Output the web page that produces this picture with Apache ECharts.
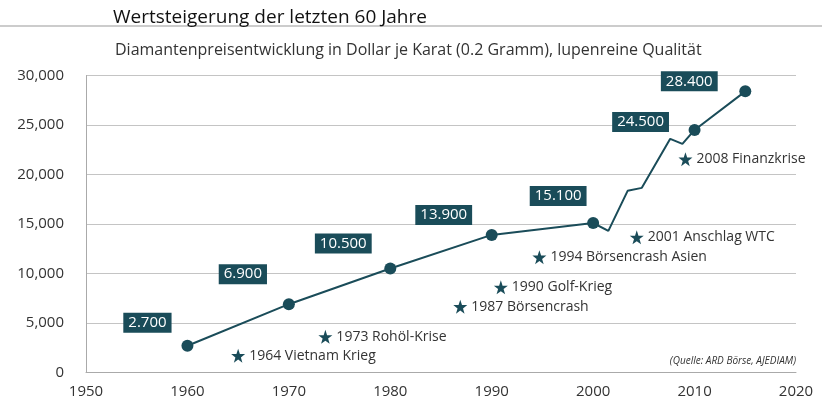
<!DOCTYPE html>
<html><head><meta charset="utf-8">
<script src="https://cdn.jsdelivr.net/npm/echarts@6/dist/echarts.min.js"></script>
<style>html,body{margin:0;padding:0;background:#fff}#c{width:822px;height:407px}</style>
</head><body><div id="c"></div>
<script>
// Main labelled data points
const mainYears = [1960, 1970, 1980, 1990, 2000, 2010, 2015];
const mainValues = [2700, 6900, 10500, 13900, 15100, 24500, 28400];
// Full price path (incl. intermediate vertices)
const pathYears = [1960, 1970, 1980, 1990, 2000, 2001.5, 2003.4, 2004.8, 2007.6, 2008.8, 2010, 2015];
const pathValues = [2700, 6900, 10500, 13900, 15100, 14300, 18350, 18650, 23600, 23100, 24500, 28400];
// Events (star markers)
const eventLabels = ['1964 Vietnam Krieg', '1973 Rohöl-Krise', '1987 Börsencrash', '1990 Golf-Krieg', '1994 Börsencrash Asien', '2001 Anschlag WTC', '2008 Finanzkrise'];
const eventX = [1965.0, 1973.6, 1986.9, 1990.9, 1994.7, 2004.3, 2009.1];
const eventY = [1700, 3600, 6650, 8600, 11650, 13650, 21550];
const yTicks = [0, 5000, 10000, 15000, 20000, 25000, 30000];
const xTicks = [1950, 1960, 1970, 1980, 1990, 2000, 2010, 2020];

// label offsets (style)
const labelOffsets = [[-40,-23],[-46,-30],[-47,-25],[-48,-20],[-35,-27],[-54,-8],[-56,-10]];

const teal = '#1a4c59';
const FONT = '"Open Sans", "Noto Sans", sans-serif';
const star = 'path://M50,0 L61.8,35.1 L98.1,35.1 L68.8,56.8 L79.4,91 L50,70 L20.6,91 L31.2,56.8 L1.9,35.1 L38.2,35.1 Z';

const chart = echarts.init(document.getElementById('c'), null, {renderer: 'canvas'});
chart.setOption({
  animation: false,
  backgroundColor: '#fff',
  textStyle: {fontFamily: FONT},
  title: [
    {text: 'Wertsteigerung der letzten 60 Jahre', left: 108, top: 3,
     textStyle: {fontFamily: FONT, fontSize: 19, fontWeight: 'normal', color: '#111'}},
    {text: 'Diamantenpreisentwicklung in Dollar je Karat (0.2 Gramm), lupenreine Qualität', left: 110, top: 37,
     textStyle: {fontFamily: FONT, fontSize: 16, fontWeight: 'normal', color: '#333'}}
  ],
  graphic: [
    {type: 'line', shape: {x1: 0, y1: 26, x2: 822, y2: 26}, style: {stroke: '#999', lineWidth: 1.2}},
    {type: 'text', right: 26, top: 356, style: {text: '(Quelle: ARD Börse, AJEDIAM)', font: 'italic 10px ' + FONT, fill: '#333'}}
  ],
  grid: {left: 86, right: 26, top: 75.5, bottom: 34.5, containLabel: false},
  xAxis: {
    type: 'value', min: 1950, max: 2020, interval: 10,
    axisLine: {show: true, lineStyle: {color: '#aaa', width: 1}},
    axisTick: {show: false},
    splitLine: {show: false},
    axisLabel: {color: '#333', fontSize: 15, margin: 12, fontFamily: FONT,
      customValues: xTicks, formatter: v => String(v)}
  },
  yAxis: {
    type: 'value', min: 0, max: 30000, interval: 5000,
    axisLine: {show: true, lineStyle: {color: '#aaa', width: 1}},
    axisTick: {show: false},
    splitLine: {show: true, lineStyle: {color: '#c4c4c4', width: 1}},
    axisLabel: {color: '#333', fontSize: 15, margin: 22, fontFamily: FONT,
      formatter: v => v === 0 ? '0' : v.toLocaleString('en-US')}
  },
  series: [
    {
      type: 'line', data: pathYears.map((y, i) => [y, pathValues[i]]),
      showSymbol: false, symbol: 'none',
      lineStyle: {color: teal, width: 2}, z: 2
    },
    {
      type: 'scatter', data: mainYears.map((y, i) => ({
        value: [y, mainValues[i]],
        label: {offset: labelOffsets[i]}
      })),
      symbol: 'circle', symbolSize: 12,
      itemStyle: {color: teal, opacity: 1},
      label: {
        show: true, position: 'inside',
        formatter: p => p.value[1].toLocaleString('de-DE'),
        color: '#fff', fontSize: 15, fontFamily: FONT,
        backgroundColor: teal, padding: [3, 5, 2, 5]
      },
      z: 3
    },
    {
      type: 'scatter', data: eventX.map((x, i) => ({value: [x, eventY[i]], name: eventLabels[i]})),
      symbol: star, symbolSize: 14,
      itemStyle: {color: teal, opacity: 1},
      label: {
        show: true, position: 'right', distance: 4,
        formatter: p => p.name,
        color: '#333', fontSize: 14, fontFamily: FONT
      },
      z: 3
    }
  ]
});
</script></body></html>
